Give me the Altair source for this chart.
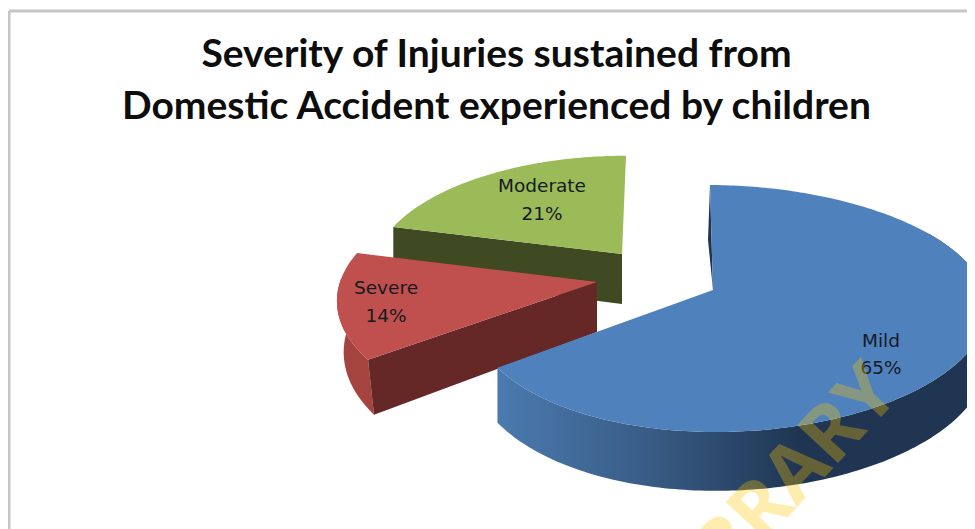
import math
import altair as alt
import pandas as pd

# --- data ---
categories = ["Mild", "Severe", "Moderate"]
shares = [65, 14, 21]
share_labels = ["65%", "14%", "21%"]
title_lines = ["Severity of Injuries sustained from", "Domestic Accident experienced by children"]
watermark = "LIBRARY"

# --- layout of the tilted pie, pixels of the picture ---
W, H = 975, 529
vertex = {"Mild": (713, 290), "Severe": (597, 282), "Moderate": (622, 254)}
radius = {"Mild": 256, "Severe": 261, "Moderate": 246}
side_bulge = {"Mild": 15, "Severe": 4, "Moderate": 0}
tilt_a = {"Mild": 120.7, "Severe": 120.7, "Moderate": 113}
shear = {"Mild": 3, "Severe": 0, "Moderate": -4}
inward = {"Mild": 0.0, "Severe": 0.026, "Moderate": 0.0}
depth = 50
TILT_P = 0.15
top_col = {"Mild": "#4f81bd", "Severe": "#c0504d", "Moderate": "#9bbb59"}
label_pos = {"Mild": (881, 341, 368), "Severe": (386, 288, 316), "Moderate": (542, 186, 214)}

xs = alt.Scale(domain=[0, W], range=[0, W], nice=False, zero=False)
ys = alt.Scale(domain=[0, H], range=[0, H], nice=False, zero=False)
X = alt.X("x:Q", scale=xs, axis=None)
Y = alt.Y("y:Q", scale=ys, axis=None)


def project(cat, deg, extra=0.0):
    t = math.radians(deg)
    u, v = math.sin(t), -math.cos(t)
    k = 1 / (1 - TILT_P * v)
    vx, vy = vertex[cat]
    x = vx + radius[cat] * u * k + side_bulge[cat] * u * u + shear[cat] * v
    if extra:
        x += (vx - x) * inward[cat]
    return x, vy + tilt_a[cat] * v * k + extra * k


spans = {}
a = 0.0
for c, s in zip(categories, shares):
    spans[c] = (a, a + s * 3.6)
    a += s * 3.6


def arc(cat, d0, d1, extra=0.0):
    n = max(2, int(abs(d1 - d0)))
    return [project(cat, d0 + (d1 - d0) * i / n, extra) for i in range(n + 1)]


def poly(points, fill):
    df = pd.DataFrame(points, columns=["x", "y"])
    df["i"] = range(len(df))
    return alt.Chart(df).mark_line(fill=fill, strokeOpacity=0, clip=True).encode(
        x=X, y=Y, order="i:Q",
    )


layers = []

# frame
frame = pd.DataFrame({"x": [9], "x2": [W], "y": [11], "y2": [H]})
layers.append(alt.Chart(frame).mark_rule(color="#c6c6c6", strokeWidth=3).encode(x=X, y=Y, y2="y2:Q"))
layers.append(alt.Chart(frame).mark_rule(color="#c6c6c6", strokeWidth=3).encode(x=X, x2="x2:Q", y=Y))

# Moderate
c = "Moderate"
d0, d1 = spans[c]
vx, vy = vertex[c]
layers.append(poly([project(c, d0), (vx, vy), (vx, vy + depth), project(c, d0, depth)], "#3f4a22"))
layers.append(poly([(vx, vy)] + arc(c, d0, d1), top_col[c]))

# Severe
c = "Severe"
d0, d1 = spans[c]
vx, vy = vertex[c]
rim = arc(c, d0, d0 + 38)
rim_low = arc(c, d0, d0 + 38, depth)
layers.append(poly(rim + rim_low[::-1], "#a5433f"))
layers.append(poly([project(c, d0), (vx, vy), (vx, vy + depth), project(c, d0, depth)], "#652826"))
layers.append(poly([(vx, vy)] + arc(c, d0, d1), top_col[c]))

# Mild
c = "Mild"
d0, d1 = spans[c]
vx, vy = vertex[c]
start = project(c, d0)
layers.append(poly([start, (start[0] - 2, start[1] + 55), (vx, vy)], "#1f3552"))
rim = arc(c, 60, d1)
rim_low = arc(c, 60, d1, depth)
side = alt.Gradient(
    gradient="linear", x1=0, x2=1, y1=0, y2=0,
    stops=[alt.GradientStop(offset=0, color="#4b7aaf"),
           alt.GradientStop(offset=0.33, color="#375a82"),
           alt.GradientStop(offset=0.62, color="#1f3552"),
           alt.GradientStop(offset=1, color="#1f3552")],
)
layers.append(poly(rim + rim_low[::-1], side))
layers.append(poly([(vx, vy)] + arc(c, d0, d1), top_col[c]))

# data labels
rows = []
for c, t in zip(categories, share_labels):
    x, y1, y2 = label_pos[c]
    rows.append({"x": x, "y": y1, "t": c})
    rows.append({"x": x, "y": y2, "t": t})
layers.append(alt.Chart(pd.DataFrame(rows)).mark_text(
    font="DejaVu Sans", fontSize=18.5, color="#141a24", baseline="middle", align="center"
).encode(x=X, y=Y, text="t:N"))

# watermark
layers.append(alt.Chart(pd.DataFrame({"x": [885], "y": [379], "t": [watermark]})).mark_text(
    font="Noto Sans", fontSize=78, fontWeight="bold", color="#ffc800", opacity=0.31,
    angle=313, align="right", baseline="middle", clip=True
).encode(x=X, y=Y, text="t:N"))

chart = alt.layer(*layers).properties(
    width=W, height=H,
    padding={"left": -8, "top": -8, "right": -8, "bottom": 0},
    autosize=alt.AutoSizeParams(type="none"),
    title=alt.TitleParams(
        text=title_lines, font="Lato", fontWeight="bold", fontSize=39, color="#0d0d0d",
        anchor="middle", frame="group", dx=9, offset=-166, lineHeight=52, baseline="bottom",
    ),
    background="white",
).configure_view(stroke=None)

chart.save("out.html", embed_options={"renderer": "svg", "actions": False})
